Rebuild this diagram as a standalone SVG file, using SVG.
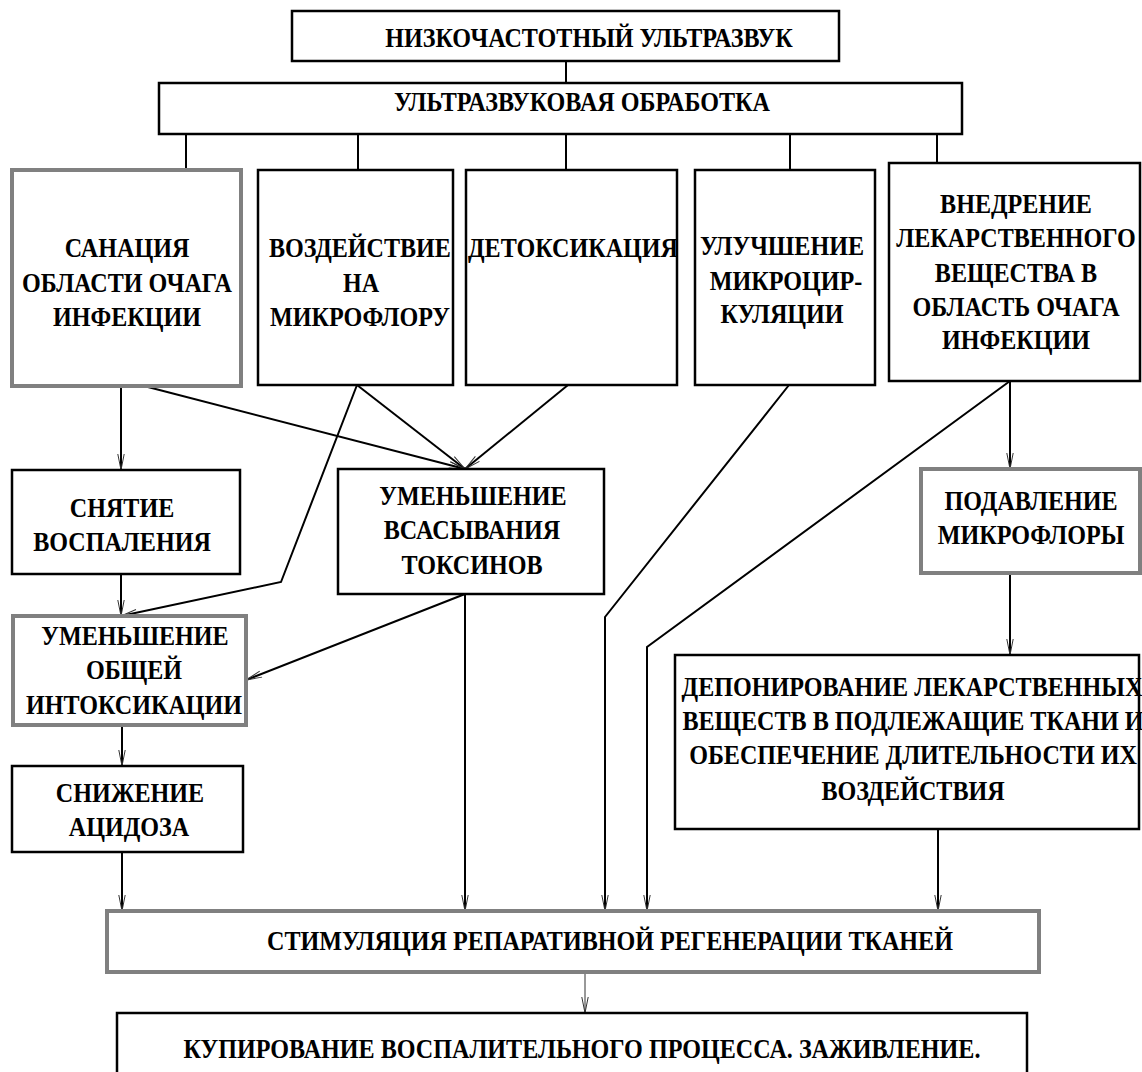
<svg xmlns="http://www.w3.org/2000/svg" width="1142" height="1072" viewBox="0 0 1142 1072">
<defs>
<style>
.box{fill:#fff;stroke:#000;stroke-width:2.5}
.gbox{fill:#fff;stroke:#808080;stroke-width:4}
.t{font-family:"Liberation Serif","Times New Roman",serif;font-weight:bold;font-size:26.5px;text-anchor:middle;fill:#000}
.c{fill:none;stroke:#000;stroke-width:2}
.a{fill:none;stroke:#000;stroke-width:2;marker-end:url(#arr)}
.thin{fill:none;stroke:#333;stroke-width:1;marker-end:url(#arr)}
</style>
<marker id="arr" markerUnits="userSpaceOnUse" markerWidth="18" markerHeight="10" refX="16" refY="4" orient="auto" overflow="visible">
<path d="M0,0.8 L16,4 L0,7.2" fill="none" stroke="#333" stroke-width="1"/>
</marker>
</defs>

<g id="connectors">
<line class="c" x1="566" y1="61" x2="566" y2="83"/>
<line class="c" x1="186" y1="134" x2="186" y2="170"/>
<line class="c" x1="358" y1="134" x2="358" y2="170"/>
<line class="c" x1="566" y1="134" x2="566" y2="170"/>
<line class="c" x1="790" y1="134" x2="790" y2="170"/>
<line class="c" x1="937" y1="134" x2="937" y2="168"/>
<line class="a" x1="121" y1="386" x2="121" y2="470"/>
<line class="a" x1="144" y1="386" x2="465" y2="469"/>
<line class="a" x1="357" y1="385" x2="465" y2="469"/>
<line class="a" x1="568" y1="385" x2="465" y2="469"/>
<polyline class="a" points="357,385 281,582 121,616"/>
<line class="a" x1="121" y1="574" x2="121" y2="616"/>
<line class="a" x1="465" y1="594" x2="246" y2="680"/>
<line class="a" x1="465" y1="594" x2="465" y2="911"/>
<polyline class="a" points="789,385 605,617 605,911"/>
<polyline class="a" points="1010,381 647,647 647,911"/>
<line class="a" x1="1010" y1="381" x2="1010" y2="469"/>
<line class="a" x1="1010" y1="573" x2="1010" y2="655"/>
<line class="a" x1="122" y1="725" x2="122" y2="766"/>
<line class="a" x1="122" y1="852" x2="122" y2="911"/>
<line class="a" x1="938" y1="829" x2="938" y2="911"/>
<line class="thin" x1="585" y1="972" x2="585" y2="1013"/>
</g>

<g id="n-nizkochastotny">
<rect class="box" x="292" y="11" width="547" height="50"/>
<text class="t" transform="translate(589 47) scale(0.91 1)">НИЗКОЧАСТОТНЫЙ УЛЬТРАЗВУК</text>
</g>
<g id="n-obrabotka">
<rect class="box" x="159" y="83" width="803" height="51"/>
<text class="t" transform="translate(582 111) scale(0.91 1)">УЛЬТРАЗВУКОВАЯ ОБРАБОТКА</text>
</g>
<g id="n-sanaciya">
<rect class="gbox" x="12" y="170" width="229" height="216"/>
<text class="t" transform="translate(127 257) scale(0.91 1)">САНАЦИЯ</text>
<text class="t" transform="translate(127 292) scale(0.91 1)">ОБЛАСТИ ОЧАГА</text>
<text class="t" transform="translate(127 326) scale(0.91 1)">ИНФЕКЦИИ</text>
</g>
<g id="n-vozdeystvie">
<rect class="box" x="258" y="170" width="195" height="215"/>
<text class="t" transform="translate(360 257) scale(0.91 1)">ВОЗДЕЙСТВИЕ</text>
<text class="t" transform="translate(361 292) scale(0.91 1)">НА</text>
<text class="t" transform="translate(360 326) scale(0.91 1)">МИКРОФЛОРУ</text>
</g>
<g id="n-detoks">
<rect class="box" x="466" y="170" width="211" height="215"/>
<text class="t" transform="translate(573 257) scale(0.91 1)">ДЕТОКСИКАЦИЯ</text>
</g>
<g id="n-uluchshenie">
<rect class="box" x="695" y="170" width="180" height="215"/>
<text class="t" transform="translate(782 255) scale(0.91 1)">УЛУЧШЕНИЕ</text>
<text class="t" transform="translate(786 290) scale(0.91 1)">МИКРОЦИР-</text>
<text class="t" transform="translate(782 323) scale(0.91 1)">КУЛЯЦИИ</text>
</g>
<g id="n-vnedrenie">
<rect class="box" x="889" y="163" width="251" height="218"/>
<text class="t" transform="translate(1016 213) scale(0.91 1)">ВНЕДРЕНИЕ</text>
<text class="t" transform="translate(1016 247) scale(0.91 1)">ЛЕКАРСТВЕННОГО</text>
<text class="t" transform="translate(1016 282) scale(0.91 1)">ВЕЩЕСТВА В</text>
<text class="t" transform="translate(1016 316) scale(0.91 1)">ОБЛАСТЬ ОЧАГА</text>
<text class="t" transform="translate(1016 349) scale(0.91 1)">ИНФЕКЦИИ</text>
</g>
<g id="n-snyatie">
<rect class="box" x="12" y="470" width="228" height="104"/>
<text class="t" transform="translate(122 517) scale(0.91 1)">СНЯТИЕ</text>
<text class="t" transform="translate(122 551) scale(0.91 1)">ВОСПАЛЕНИЯ</text>
</g>
<g id="n-umen-vsas">
<rect class="box" x="338" y="469" width="266" height="125"/>
<text class="t" transform="translate(473 505) scale(0.91 1)">УМЕНЬШЕНИЕ</text>
<text class="t" transform="translate(472 539) scale(0.91 1)">ВСАСЫВАНИЯ</text>
<text class="t" transform="translate(472 574) scale(0.91 1)">ТОКСИНОВ</text>
</g>
<g id="n-podavlenie">
<rect class="gbox" x="921" y="469" width="219" height="104"/>
<text class="t" transform="translate(1031 510) scale(0.91 1)">ПОДАВЛЕНИЕ</text>
<text class="t" transform="translate(1031 544) scale(0.91 1)">МИКРОФЛОРЫ</text>
</g>
<g id="n-umen-obsh">
<rect class="gbox" x="13" y="616" width="233" height="109"/>
<text class="t" transform="translate(135 645) scale(0.91 1)">УМЕНЬШЕНИЕ</text>
<text class="t" transform="translate(134 679) scale(0.91 1)">ОБЩЕЙ</text>
<text class="t" transform="translate(134 714) scale(0.91 1)">ИНТОКСИКАЦИИ</text>
</g>
<g id="n-snizhenie">
<rect class="box" x="12" y="766" width="231" height="86"/>
<text class="t" transform="translate(130 802) scale(0.91 1)">СНИЖЕНИЕ</text>
<text class="t" transform="translate(129 836) scale(0.91 1)">АЦИДОЗА</text>
</g>
<g id="n-deponirovanie">
<rect class="box" x="675" y="655" width="464" height="174"/>
<text class="t" transform="translate(912 696) scale(0.91 1)">ДЕПОНИРОВАНИЕ ЛЕКАРСТВЕННЫХ</text>
<text class="t" transform="translate(913 730) scale(0.91 1)">ВЕЩЕСТВ В ПОДЛЕЖАЩИЕ ТКАНИ И</text>
<text class="t" transform="translate(913 764) scale(0.91 1)">ОБЕСПЕЧЕНИЕ ДЛИТЕЛЬНОСТИ ИХ</text>
<text class="t" transform="translate(913 800) scale(0.91 1)">ВОЗДЕЙСТВИЯ</text>
</g>
<g id="n-stimulyaciya">
<rect class="gbox" x="107" y="911" width="932" height="61"/>
<text class="t" transform="translate(610 950) scale(0.91 1)">СТИМУЛЯЦИЯ РЕПАРАТИВНОЙ РЕГЕНЕРАЦИИ ТКАНЕЙ</text>
</g>
<g id="n-kupirovanie">
<rect class="box" x="117" y="1013" width="910" height="80"/>
<text class="t" transform="translate(582 1058) scale(0.91 1)">КУПИРОВАНИЕ ВОСПАЛИТЕЛЬНОГО ПРОЦЕССА. ЗАЖИВЛЕНИЕ.</text>
</g>
</svg>
